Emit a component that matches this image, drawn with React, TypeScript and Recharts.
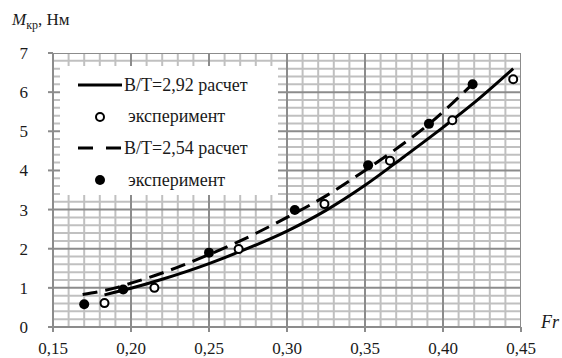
import React from 'react';
import { ComposedChart, Line, Scatter, XAxis, YAxis } from 'recharts';

// B/T = 2,92 — расчетная кривая и эксперимент
const frCalc292 = [0.183, 0.2, 0.22, 0.25, 0.27, 0.3, 0.325, 0.35, 0.375, 0.4, 0.42, 0.445];
const mCalc292 = [0.82, 0.99, 1.22, 1.62, 1.93, 2.45, 2.98, 3.62, 4.35, 5.1, 5.73, 6.6];
const frExp292 = [0.183, 0.215, 0.269, 0.324, 0.366, 0.406, 0.445];
const mExp292 = [0.61, 1.0, 1.99, 3.14, 4.25, 5.28, 6.33];

// B/T = 2,54 — расчетная кривая и эксперимент
const frCalc254 = [0.169, 0.19, 0.2, 0.22, 0.25, 0.27, 0.3, 0.325, 0.35, 0.37, 0.39, 0.42];
const mCalc254 = [0.83, 1.0, 1.12, 1.38, 1.85, 2.2, 2.8, 3.35, 4.0, 4.55, 5.15, 6.25];
const frExp254 = [0.17, 0.195, 0.25, 0.305, 0.352, 0.391, 0.419];
const mExp254 = [0.58, 0.96, 1.9, 2.99, 4.13, 5.19, 6.2];

const xTicks = [0.15, 0.2, 0.25, 0.3, 0.35, 0.4, 0.45];
const yTicks = [0, 1, 2, 3, 4, 5, 6, 7];
const X_MIN = 0.15;
const X_MAX = 0.45;
const Y_MIN = 0;
const Y_MAX = 7;

const zip = (xs: number[], ys: number[]) => xs.map((x, i) => ({ x, y: ys[i] }));

const calc292 = zip(frCalc292, mCalc292);
const exp292 = zip(frExp292, mExp292);
const calc254 = zip(frCalc254, mCalc254);
const exp254 = zip(frExp254, mExp254);

// minor grid: every 0.01 on Fr, every 0.2 on M
const minorX: number[] = [];
for (let i = 16; i < 45; i++) if (i % 5 !== 0) minorX.push(i / 100);
const minorY: number[] = [];
for (let i = 1; i < 35; i++) if (i % 5 !== 0) minorY.push(i / 5);

// grid lines as two-point segments spanning the plot
const vSeg = (v: number) => [{ x: v, y: Y_MIN }, { x: v, y: Y_MAX }];
const hSeg = (v: number) => [{ x: X_MIN, y: v }, { x: X_MAX, y: v }];

const FONT = "'Liberation Serif', 'DejaVu Serif', 'Noto Serif', serif";
const MAJOR = '#8c8c8c';
const MINOR = '#c0c0c0';
const INK = '#1a1a1a';

const OpenDot = (props: any) => (
  <circle cx={props.cx} cy={props.cy} r={4} fill="#fff" stroke="#000" strokeWidth={2} />
);
const FilledDot = (props: any) => <circle cx={props.cx} cy={props.cy} r={5} fill="#000" />;

const legendRows = [
  { label: 'B/T=2,92 расчет', kind: 'solid' },
  { label: 'эксперимент', kind: 'open' },
  { label: 'B/T=2,54 расчет', kind: 'dashed' },
  { label: 'эксперимент', kind: 'filled' },
];

const Swatch = ({ kind }: { kind: string }) => (
  <svg width={46} height={14} style={{ display: 'block' }}>
    {kind === 'solid' && <line x1={1} y1={7} x2={45} y2={7} stroke="#000" strokeWidth={3} />}
    {kind === 'dashed' && (
      <line x1={1} y1={7} x2={45} y2={7} stroke="#000" strokeWidth={3} strokeDasharray="15 13" />
    )}
    {kind === 'open' && <circle cx={23} cy={7} r={4} fill="#fff" stroke="#000" strokeWidth={2} />}
    {kind === 'filled' && <circle cx={23} cy={7} r={5} fill="#000" />}
  </svg>
);

const tickStyle = { fill: INK, fontSize: 17, fontFamily: FONT };

const gridLine = (key: string, data: any[], color: string) => (
  <Line
    key={key}
    data={data}
    dataKey="y"
    type="linear"
    stroke={color}
    strokeWidth={2}
    dot={false}
    activeDot={false}
    legendType="none"
    isAnimationActive={false}
  />
);

export default function App() {
  const fmtX = (v: number) => v.toFixed(2).replace('.', ',');
  return (
    <div style={{ position: 'absolute', left: 0, top: 0, width: 562, height: 358, fontFamily: FONT }}>
      <ComposedChart width={562} height={358} margin={{ top: 53, right: 41, bottom: 0, left: 8 }}>
        <XAxis
          dataKey="x"
          type="number"
          domain={[X_MIN, X_MAX]}
          ticks={xTicks}
          tickFormatter={fmtX}
          height={31}
          stroke={MAJOR}
          strokeWidth={2}
          tickSize={5}
          tickMargin={10}
          tick={tickStyle}
          allowDataOverflow
        />
        <YAxis
          type="number"
          domain={[Y_MIN, Y_MAX]}
          ticks={yTicks}
          width={45}
          stroke={MAJOR}
          strokeWidth={2}
          tickSize={5}
          tickMargin={12}
          tick={{ ...tickStyle, dx: -8 }}
          allowDataOverflow
        />
        {minorX.map((v) => gridLine('mx' + v, vSeg(v), MINOR))}
        {minorY.map((v) => gridLine('my' + v, hSeg(v), MINOR))}
        {xTicks.map((v) => gridLine('gx' + v, vSeg(v), MAJOR))}
        {yTicks.map((v) => gridLine('gy' + v, hSeg(v), MAJOR))}
        <Line
          data={calc292}
          dataKey="y"
          type="monotone"
          stroke="#000"
          strokeWidth={3}
          dot={false}
          activeDot={false}
          isAnimationActive={false}
        />
        <Line
          data={calc254}
          dataKey="y"
          type="monotone"
          stroke="#000"
          strokeWidth={3}
          strokeDasharray="15 8"
          dot={false}
          activeDot={false}
          isAnimationActive={false}
        />
        <Scatter data={exp292} dataKey="y" shape={OpenDot} isAnimationActive={false} />
        <Scatter data={exp254} dataKey="y" shape={FilledDot} isAnimationActive={false} />
      </ComposedChart>

      {/* axis titles */}
      <div style={{ position: 'absolute', left: 12, top: 10, fontSize: 17, color: INK, whiteSpace: 'nowrap' }}>
        <i>M</i>
        <sub style={{ fontSize: 12 }}>кр</sub>, Нм
      </div>
      <div style={{ position: 'absolute', left: 541, top: 312, fontSize: 18, color: INK }}>
        <i>Fr</i>
      </div>

      {/* legend */}
      <div
        style={{
          position: 'absolute',
          left: 60,
          top: 66,
          width: 218,
          height: 129,
          background: '#fff',
        }}
      >
        {legendRows.map((r, i) => (
          <div
            key={i}
            style={{
              position: 'absolute',
              left: 17,
              top: 7 + i * 31.7,
              height: 24,
              display: 'flex',
              alignItems: 'center',
              fontSize: 18,
              color: INK,
              whiteSpace: 'nowrap',
            }}
          >
            <Swatch kind={r.kind} />
            <span style={{ marginLeft: r.kind === 'solid' || r.kind === 'dashed' ? 1 : 5 }}>{r.label}</span>
          </div>
        ))}
      </div>
    </div>
  );
}
